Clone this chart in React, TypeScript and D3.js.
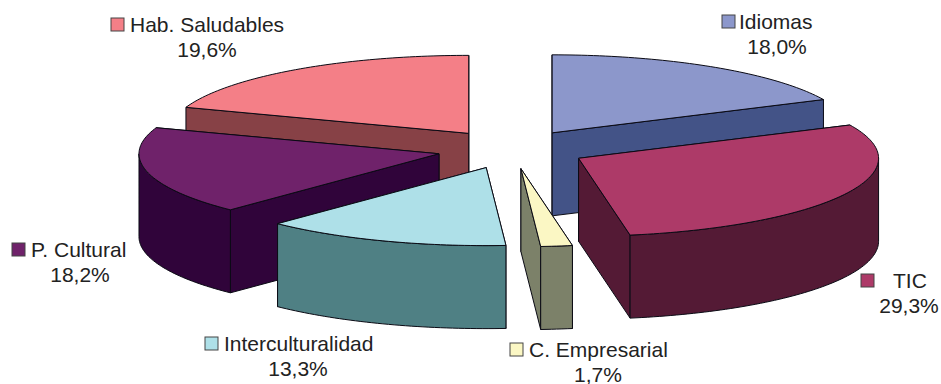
import * as d3 from "d3";

const categories = ["Idiomas", "TIC", "C. Empresarial", "Interculturalidad", "P. Cultural", "Hab. Saludables"];
const values = [18.0, 29.3, 1.7, 13.3, 18.2, 19.6];
const topColors = ["#8c97cb", "#ad3a68", "#fbf7c4", "#aee0e8", "#6f226a", "#f47f87"];
const sideColors = ["#435387", "#541a35", "#7c8169", "#4f8084", "#30043a", "#874146"];

const width = 941;
const height = 384;
const cx = 512;
const cy = 149.3;
const rx = 300;
const ry = 78;
const depth = 83;
const explode = 0.25;

// label layout: key left, key top, text start, percent centre
const labelPos = [
  { key: [722, 15], text: 739, pct: 777 },
  { key: [861, 274], text: 893, pct: 909 },
  { key: [510, 343], text: 529, pct: 598 },
  { key: [205, 337], text: 224, pct: 298 },
  { key: [12, 243], text: 31, pct: 80 },
  { key: [111, 18], text: 130, pct: 207 },
];

// drawing order, back to front
const drawOrder = [0, 5, 4, 3, 2, 1];

const pie = d3.pie<number>().sort(null).value((d) => d);
const arcs = pie(values);

const px = d3.scaleLinear().domain([-1, 1]).range([-rx, rx]);
const py = d3.scaleLinear().domain([-1, 1]).range([-ry, ry]);
const line = d3.line<number[]>().x((d) => d[0]).y((d) => d[1]);

const pct = (v: number) => v.toFixed(1).replace(".", ",") + "%";

function edge(a0: number, a1: number, ox: number, oy: number) {
  const n = Math.max(2, Math.ceil((a1 - a0) / 0.02));
  return d3.range(n + 1).map((i) => {
    const a = a0 + ((a1 - a0) * i) / n;
    return [ox + px(Math.sin(a)), oy + py(-Math.cos(a))];
  });
}

function Slice({ i }: { i: number }) {
  const { startAngle, endAngle } = arcs[i];
  const mid = (startAngle + endAngle) / 2;
  const ox = cx + px(Math.sin(mid)) * explode;
  const oy = cy + py(-Math.cos(mid)) * explode;
  const top = edge(startAngle, endAngle, ox, oy);
  const apex = [ox, oy];
  const wall = (p: number[]) => [apex, p, [p[0], p[1] + depth], [ox, oy + depth]];

  // radial walls: the one further back goes first
  const walls = [top[0], top[top.length - 1]].sort((a, b) => a[1] - b[1]);

  // only the front half of the rim faces the viewer
  const rimStart = Math.max(startAngle, Math.PI / 2);
  const rimEnd = Math.min(endAngle, (3 * Math.PI) / 2);
  const rim = rimEnd > rimStart ? edge(rimStart, rimEnd, ox, oy) : null;
  const rimPath = rim ? [...rim, ...rim.slice().reverse().map((p) => [p[0], p[1] + depth])] : null;

  const stroke = { stroke: "#0a0a14", strokeWidth: 1, strokeLinejoin: "round" as const };
  return (
    <g>
      {walls.map((p, k) => (
        <path key={k} d={line(wall(p)) + "Z"} fill={sideColors[i]} {...stroke} />
      ))}
      {rimPath && <path d={line(rimPath) + "Z"} fill={sideColors[i]} {...stroke} />}
      <path d={line([apex, ...top]) + "Z"} fill={topColors[i]} {...stroke} />
    </g>
  );
}

export default function App() {
  return (
    <svg width={width} height={height} style={{ position: "absolute", left: 0, top: 0 }}>
      <rect width={width} height={height} fill="#fff" />
      {drawOrder.map((i) => (
        <Slice key={i} i={i} />
      ))}
      <g fontFamily="'Liberation Sans', Arial, sans-serif" fontSize={21} fill="#222">
        {categories.map((c, i) => {
          const l = labelPos[i];
          return (
            <g key={c}>
              <rect x={l.key[0]} y={l.key[1]} width={13} height={13} fill={topColors[i]} stroke="#444" strokeWidth={1} />
              <text x={l.text} y={l.key[1] + 14}>{c}</text>
              <text x={l.pct} y={l.key[1] + 38.5} textAnchor="middle">{pct(values[i])}</text>
            </g>
          );
        })}
      </g>
    </svg>
  );
}
